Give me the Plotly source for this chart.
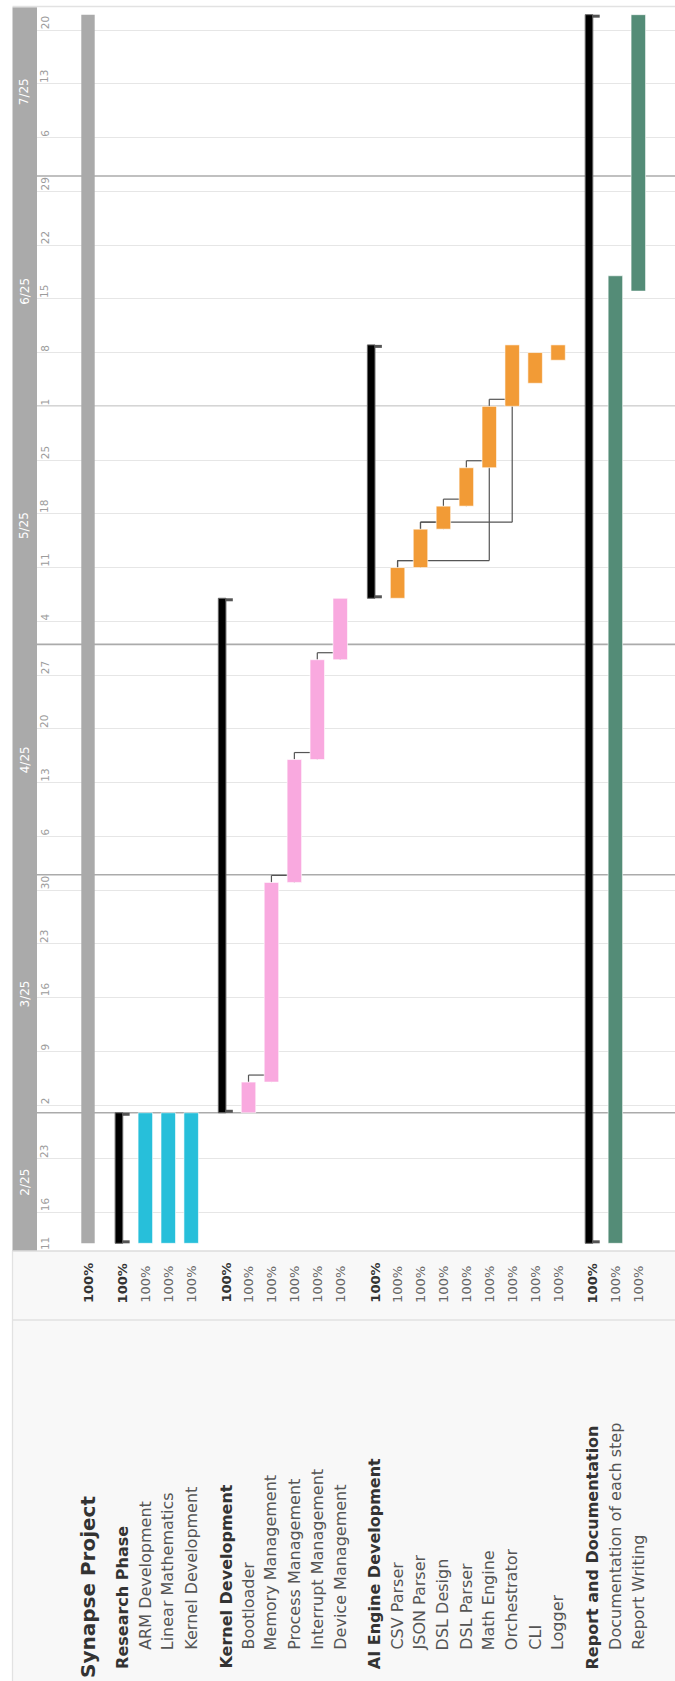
import pandas as pd
import plotly.graph_objects as go

# ---------------- data ----------------
project_name = "Synapse Project"
project_start = "2025-02-12"
project_end = "2025-07-22"
project_progress = 100

group_names = ["Research Phase", "Kernel Development", "AI Engine Development", "Report and Documentation"]
group_starts = ["2025-02-12", "2025-03-01", "2025-05-07", "2025-02-12"]
group_ends = ["2025-03-01", "2025-05-07", "2025-06-09", "2025-07-22"]
group_progress = [100, 100, 100, 100]
group_colors = ["#27bfda", "#f9a9df", "#f29b36", "#548c77"]

task_names = [
    "ARM Development", "Linear Mathematics", "Kernel Development",
    "Bootloader", "Memory Management", "Process Management", "Interrupt Management", "Device Management",
    "CSV Parser", "JSON Parser", "DSL Design", "DSL Parser", "Math Engine", "Orchestrator", "CLI", "Logger",
    "Documentation of each step", "Report Writing",
]
task_group = [0, 0, 0, 1, 1, 1, 1, 1, 2, 2, 2, 2, 2, 2, 2, 2, 3, 3]
task_starts = [
    "2025-02-12", "2025-02-12", "2025-02-12",
    "2025-03-01", "2025-03-05", "2025-03-31", "2025-04-16", "2025-04-29",
    "2025-05-07", "2025-05-11", "2025-05-16", "2025-05-19", "2025-05-24", "2025-06-01", "2025-06-04", "2025-06-07",
    "2025-02-12", "2025-06-16",
]
task_ends = [
    "2025-03-01", "2025-03-01", "2025-03-01",
    "2025-03-05", "2025-03-31", "2025-04-16", "2025-04-29", "2025-05-07",
    "2025-05-11", "2025-05-16", "2025-05-19", "2025-05-24", "2025-06-01", "2025-06-09", "2025-06-08", "2025-06-09",
    "2025-06-18", "2025-07-22",
]
task_progress = [100, 100, 100, 100, 100, 100, 100, 100, 100, 100, 100, 100, 100, 100, 100, 100, 100, 100]

# (predecessor, successor) task indices
dependencies = [(3, 4), (4, 5), (5, 6), (6, 7),
                (8, 9), (9, 10), (10, 11), (11, 12), (12, 13), (8, 12), (9, 13)]

range_start = "2025-02-11"
range_end = "2025-07-23"

# ---------------- geometry ----------------
W, H = 675, 1681
PLOT_L, PLOT_R, PLOT_T, PLOT_B = 37, 675, 7, 1251
BOX_L = 12.5                 # left edge of the whole chart frame
ROW_PX = 22.93
FIRST_ROW_PX = 88
BAR_W = 14.5 / ROW_PX
PROJ_W = 13.4 / ROW_PX
BLACK_W = 7.6 / ROW_PX
FONT = "DejaVu Sans"

d0, d1 = pd.Timestamp(range_start), pd.Timestamp(range_end)
px_per_day = (PLOT_B - PLOT_T) / (d1 - d0).days
x_range = [(PLOT_L - FIRST_ROW_PX) / ROW_PX, (PLOT_R - FIRST_ROW_PX) / ROW_PX]


def paper_x(px):
    return (px - PLOT_L) / (PLOT_R - PLOT_L)


def paper_y(py):
    return (PLOT_B - py) / (PLOT_B - PLOT_T)


def row_px(pos):
    return FIRST_ROW_PX + pos * ROW_PX


def ds(ts):
    return pd.Timestamp(ts).strftime("%Y-%m-%d %H:%M:%S")


def dur_ms(s, e):
    return (pd.Timestamp(e) - pd.Timestamp(s)).total_seconds() * 1000


# row positions: project, then each group header (after half-row spacer) and its tasks
project_pos = 0.0
group_pos = []
task_pos = [0.0] * len(task_names)
pos = project_pos
for g in range(len(group_names)):
    pos += 1.5
    group_pos.append(pos)
    for t, tg in enumerate(task_group):
        if tg == g:
            pos += 1
            task_pos[t] = pos

fig = go.Figure()
shapes = []
annotations = []

# ---------------- frame / panels ----------------
shapes.append(dict(type="rect", xref="paper", yref="paper", x0=paper_x(BOX_L), x1=1.0,
                   y0=paper_y(H), y1=0, fillcolor="#f8f8f8", line=dict(width=0), layer="below"))
shapes.append(dict(type="line", xref="paper", yref="paper", x0=paper_x(BOX_L), x1=1.0,
                   y0=paper_y(1320), y1=paper_y(1320), line=dict(color="#e2e2e2", width=1.3)))
shapes.append(dict(type="line", xref="paper", yref="paper", x0=paper_x(BOX_L), x1=paper_x(BOX_L),
                   y0=paper_y(H), y1=0, line=dict(color="#e2e2e2", width=1.3)))
shapes.append(dict(type="line", xref="paper", yref="paper", x0=paper_x(BOX_L), x1=1.0,
                   y0=0, y1=0, line=dict(color="#dcdcdc", width=1.3)))
shapes.append(dict(type="line", xref="paper", yref="paper", x0=paper_x(BOX_L), x1=1.0,
                   y0=paper_y(6.5), y1=paper_y(6.5), line=dict(color="#e2e2e2", width=1.3)))
# month band
shapes.append(dict(type="rect", xref="paper", yref="paper", x0=paper_x(BOX_L), x1=0,
                   y0=0, y1=paper_y(7.2), fillcolor="#aaaaaa", line=dict(width=0), layer="below"))

# month boundaries and labels
month_starts = pd.date_range(d0.to_period("M").to_timestamp(), d1, freq="MS")
for i, ms in enumerate(month_starts):
    if ms > d0:
        shapes.append(dict(type="line", xref="paper", yref="y", x0=0, x1=1, y0=ds(ms), y1=ds(ms),
                           line=dict(color="#ababab", width=1.6), layer="between"))
    seg0 = max(ms, d0)
    seg1 = min(ms + pd.offsets.MonthBegin(1), d1)
    mid = seg0 + (seg1 - seg0) / 2
    annotations.append(dict(xref="paper", yref="y", x=paper_x((BOX_L + PLOT_L) / 2), y=ds(mid),
                            text=f"{ms.month}/{ms.strftime('%y')}", textangle=-90, showarrow=False,
                            xanchor="center", yanchor="middle",
                            font=dict(family=FONT, size=12, color="white")))

# weekly day labels
week_ticks = [d0] + list(pd.date_range("2025-02-16", d1, freq="7D"))
for wt in week_ticks:
    annotations.append(dict(xref="paper", yref="y", x=paper_x(44.6), y=ds(wt), text=str(wt.day),
                            textangle=-90, showarrow=False, xanchor="center", yanchor="bottom",
                            borderpad=0, font=dict(family=FONT, size=10.5, color="#9c9c9c")))

# ---------------- dependency connectors ----------------
OFF = pd.Timedelta(days=7 / px_per_day)
for p, s in dependencies:
    xp, xs = task_pos[p], task_pos[s]
    y0 = pd.Timestamp(task_ends[p])
    y1 = y0 + OFF
    ys = pd.Timestamp(task_starts[s])
    for (ax, ay, bx, by) in [(xp, y0, xp, y1), (xp, y1, xs, y1), (xs, y1, xs, ys)]:
        shapes.append(dict(type="line", xref="x", yref="y", x0=ax, x1=bx, y0=ds(ay), y1=ds(by),
                           line=dict(color="#555555", width=1.2), layer="between"))

# ---------------- bars ----------------
fig.add_trace(go.Bar(
    x=[project_pos], y=[dur_ms(project_start, project_end)], base=[project_start],
    width=PROJ_W, marker=dict(color="#aaaaaa", line=dict(width=0)), hoverinfo="skip"))

for g in range(len(group_names)):
    idx = [t for t, tg in enumerate(task_group) if tg == g]
    fig.add_trace(go.Bar(
        x=[task_pos[t] for t in idx],
        y=[dur_ms(task_starts[t], task_ends[t]) for t in idx],
        base=[task_starts[t] for t in idx],
        width=BAR_W,
        marker=dict(color=group_colors[g], line=dict(color="rgba(255,255,255,0.6)", width=1)),
        hoverinfo="skip"))

# group summary brackets
fig.add_trace(go.Bar(
    x=[gp - BAR_W / 2 + BLACK_W / 2 for gp in group_pos],
    y=[dur_ms(s, e) for s, e in zip(group_starts, group_ends)],
    base=group_starts, width=BLACK_W,
    marker=dict(color="#000000", line=dict(color="#666666", width=1)), hoverinfo="skip"))

INSET = pd.Timedelta(days=1.5 / px_per_day)
cap_x, cap_y = [], []
for gp, s, e in zip(group_pos, group_starts, group_ends):
    left = gp - BAR_W / 2
    for yy in (pd.Timestamp(s) + INSET, pd.Timestamp(e) - INSET):
        cap_x += [left + BLACK_W - 0.02, left + BAR_W, None]
        cap_y += [yy, yy, None]
fig.add_trace(go.Scatter(x=cap_x, y=cap_y, mode="lines", line=dict(color="#555555", width=3),
                         hoverinfo="skip"))

# ---------------- text panel ----------------
PCT_Y = paper_y(1304)


def add_row_text(pos, name, pct, start_py, size, color, bold):
    cx = paper_x(row_px(pos))
    n = f"<b>{name}</b>" if bold else name
    p = f"<b>{pct}%</b>" if bold else f"{pct}%"
    annotations.append(dict(xref="paper", yref="paper", x=cx, y=paper_y(start_py), text=n,
                            textangle=-90, showarrow=False, xanchor="center", yanchor="bottom",
                            borderpad=0, font=dict(family=FONT, size=size, color=color)))
    annotations.append(dict(xref="paper", yref="paper", x=cx, y=PCT_Y, text=p,
                            textangle=-90, showarrow=False, xanchor="center", yanchor="bottom",
                            borderpad=0, font=dict(family=FONT, size=13,
                                                   color="#333333" if bold else "#666666")))


add_row_text(project_pos, project_name, project_progress, 1679, 20, "#333333", True)
for g in range(len(group_names)):
    add_row_text(group_pos[g], group_names[g], group_progress[g], 1670, 16, "#333333", True)
for t in range(len(task_names)):
    add_row_text(task_pos[t], task_names[t], task_progress[t], 1651, 16, "#555555", False)

fig.update_layout(
    width=W, height=H,
    margin=dict(l=PLOT_L, r=W - PLOT_R, t=PLOT_T, b=H - PLOT_B, pad=0),
    paper_bgcolor="white", plot_bgcolor="white",
    showlegend=False, barmode="overlay",
    font=dict(family=FONT),
    xaxis=dict(range=x_range, showgrid=False, zeroline=False, showticklabels=False,
               ticks="", showline=False, fixedrange=True),
    yaxis=dict(type="date", range=[range_start, range_end], tick0="2025-02-16",
               dtick=7 * 86400000, showgrid=True, gridcolor="#e6e6e6", gridwidth=1.3,
               showticklabels=False, ticks="", zeroline=False, showline=False, fixedrange=True),
    shapes=shapes,
    annotations=annotations,
)

fig.write_html("out.html")
